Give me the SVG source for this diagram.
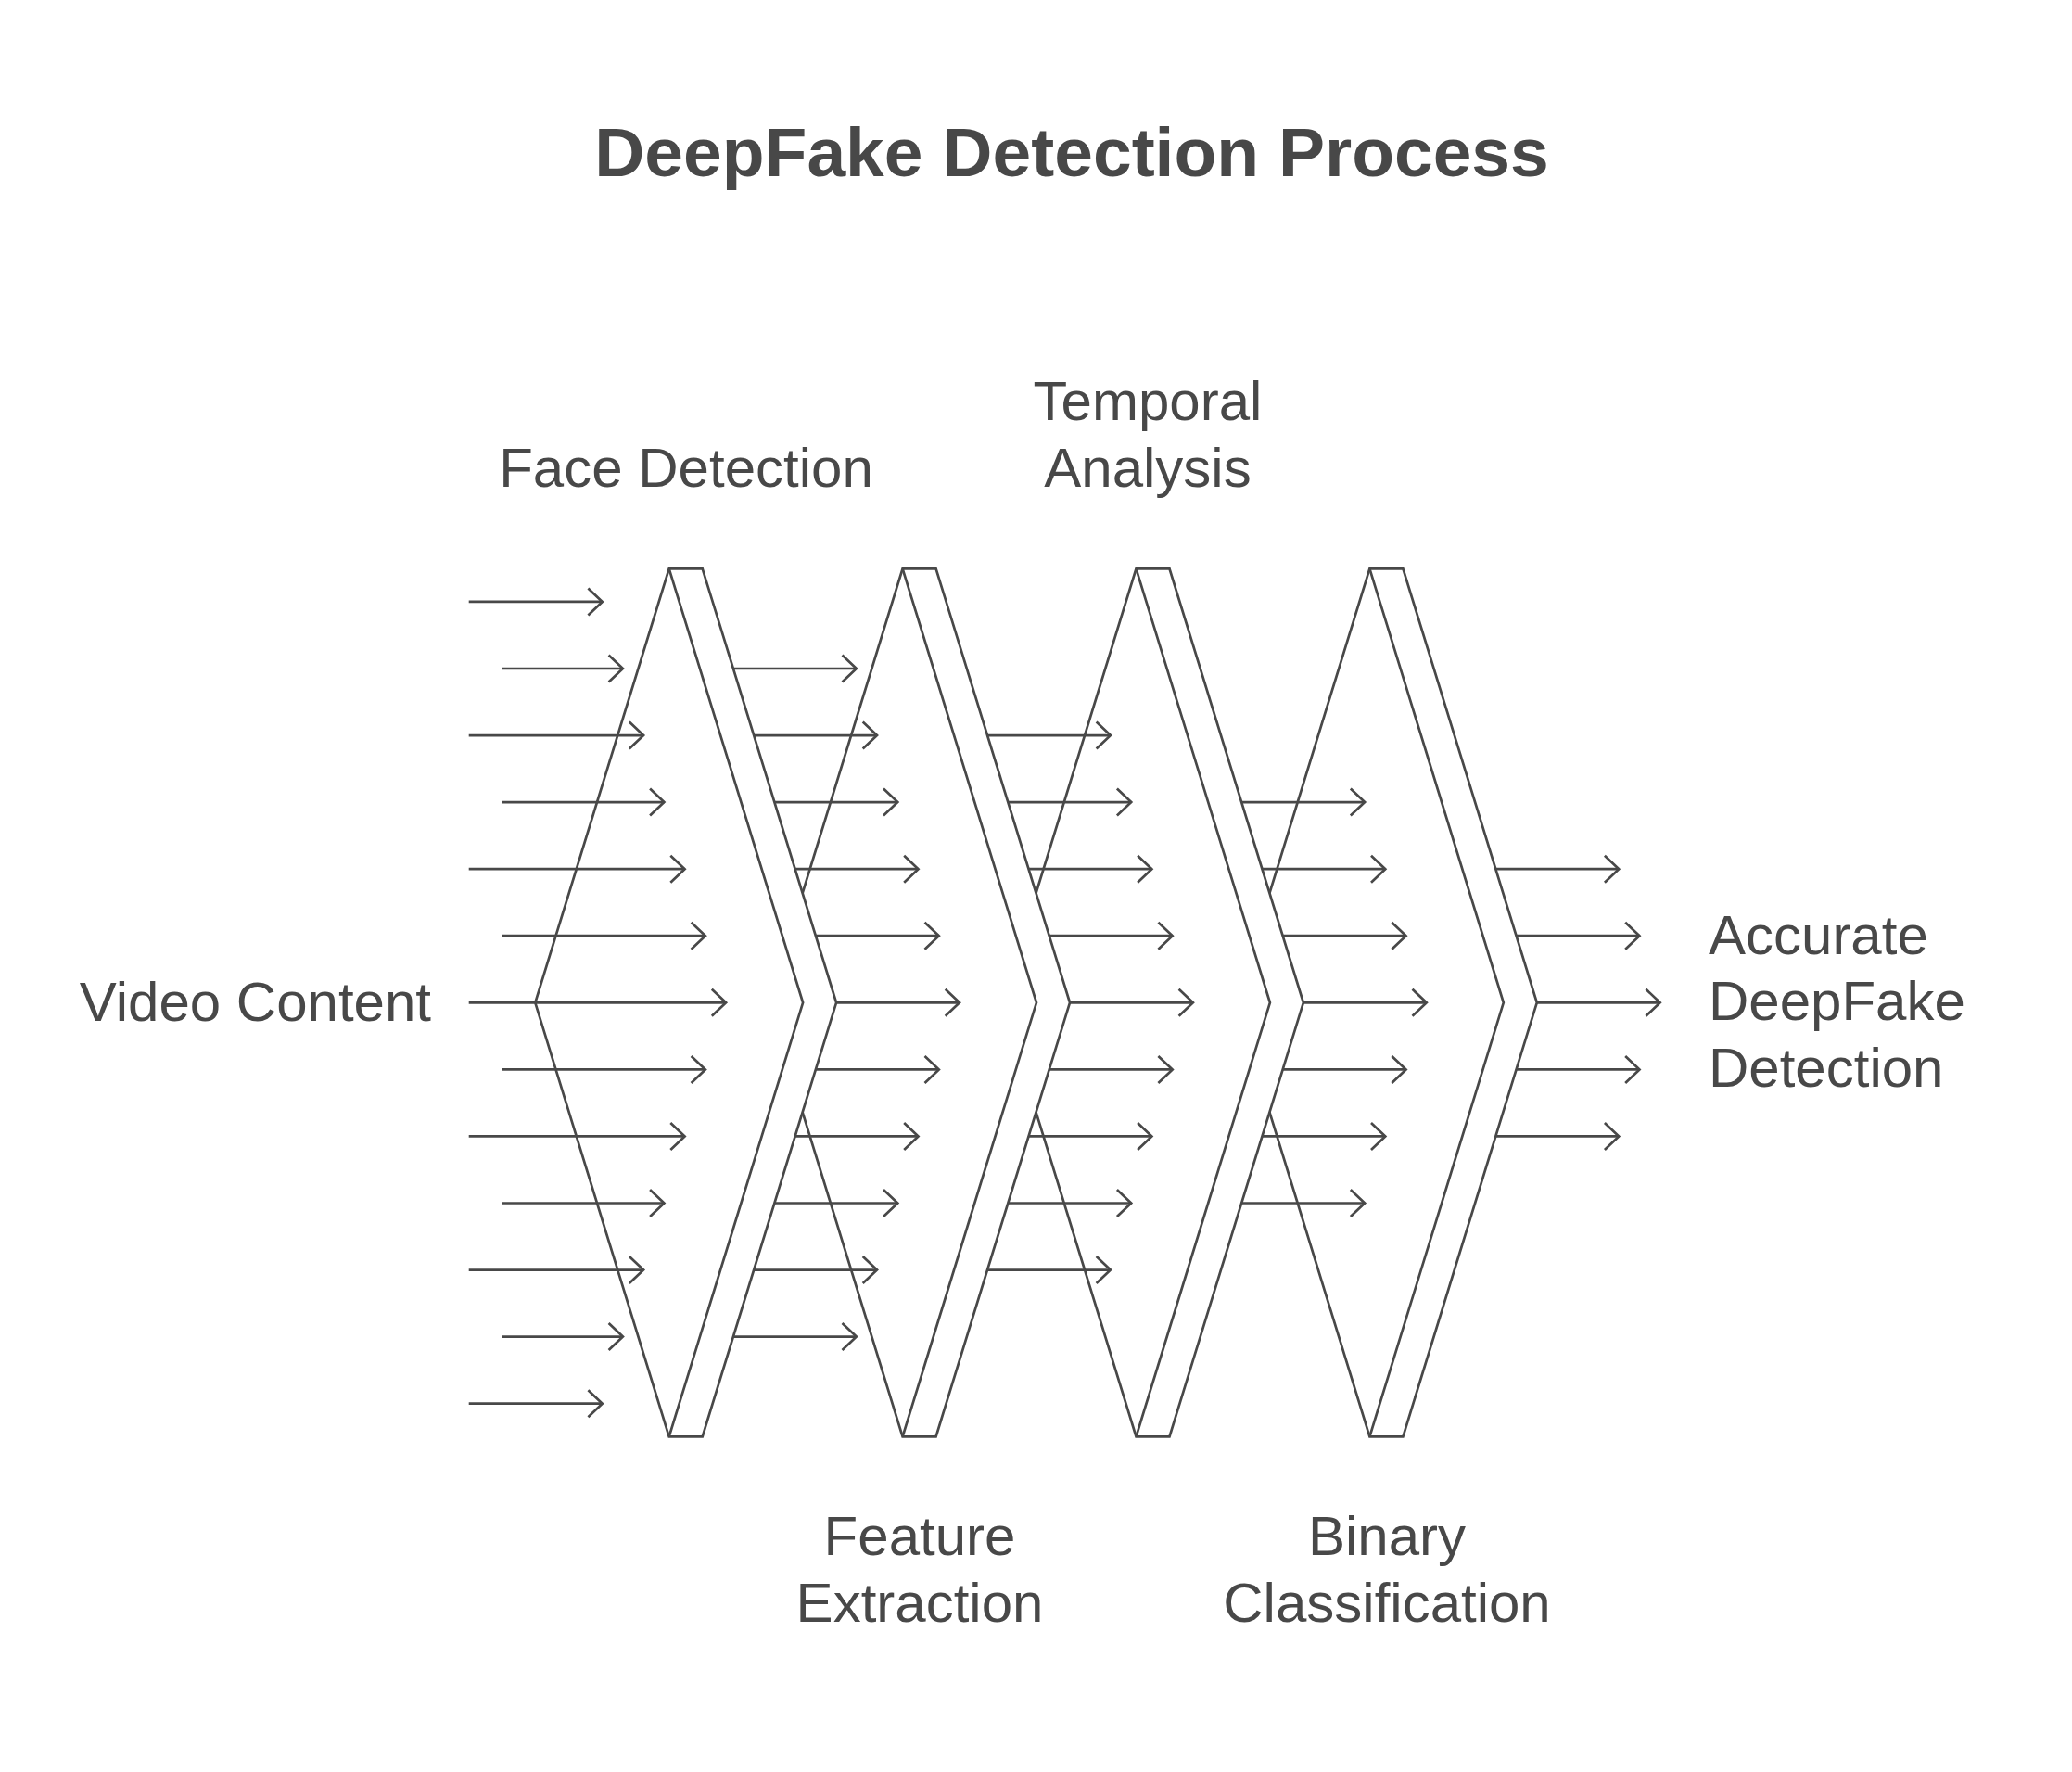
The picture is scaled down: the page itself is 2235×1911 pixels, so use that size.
<svg xmlns="http://www.w3.org/2000/svg" width="2235" height="1911" viewBox="0 0 2235 1911">
<style>
.t{font-family:"Liberation Sans",Arial,sans-serif;fill:#484848;font-size:60px}
.title{font-family:"Liberation Sans",Arial,sans-serif;fill:#484848;font-size:75px;font-weight:bold}
.ch{fill:#ffffff;stroke:#484848;stroke-width:2.7;stroke-linejoin:miter}
.in{fill:none;stroke:#484848;stroke-width:2.7}
.ar{fill:none;stroke:#484848;stroke-width:2.7;marker-end:url(#ah)}
</style>
<defs>
<marker id="ah" markerUnits="userSpaceOnUse" viewBox="0 0 22 34" markerWidth="22" markerHeight="34" refX="18" refY="17" orient="auto">
<path d="M2.7 2.5 L18 17 L2.7 31.5" fill="none" stroke="#484848" stroke-width="2.7"/>
</marker>
</defs>
<rect width="2235" height="1911" fill="#ffffff"/>
<text class="title" x="1156" y="190" text-anchor="middle">DeepFake Detection Process</text>

<g id="chevron-binary-classification">
<polygon class="ch" points="1333,1081.3 1477.4,613.3 1513.4,613.3 1657.8,1081.3 1513.4,1549.3 1477.4,1549.3"/>
<polyline class="in" points="1477.4,613.3 1621.8,1081.3 1477.4,1549.3"/>
</g>
<g id="chevron-temporal-analysis">
<polygon class="ch" points="1081.1,1081.3 1225.5,613.3 1261.5,613.3 1405.9,1081.3 1261.5,1549.3 1225.5,1549.3"/>
<polyline class="in" points="1225.5,613.3 1369.9,1081.3 1225.5,1549.3"/>
</g>
<g id="chevron-feature-extraction">
<polygon class="ch" points="829.2,1081.3 973.6,613.3 1009.6,613.3 1154,1081.3 1009.6,1549.3 973.6,1549.3"/>
<polyline class="in" points="973.6,613.3 1118,1081.3 973.6,1549.3"/>
</g>
<g id="chevron-face-detection">
<polygon class="ch" points="577.3,1081.3 721.7,613.3 757.7,613.3 902.1,1081.3 757.7,1549.3 721.7,1549.3"/>
<polyline class="in" points="721.7,613.3 866.1,1081.3 721.7,1549.3"/>
</g>

<g id="connectors">
<path class="ar" d="M505.7 648.9 H649.7"/>
<path class="ar" d="M541.7 721 H671.9"/>
<path class="ar" d="M505.7 793.1 H694.1"/>
<path class="ar" d="M541.7 865.1 H716.4"/>
<path class="ar" d="M505.7 937.2 H738.6"/>
<path class="ar" d="M541.7 1009.2 H760.9"/>
<path class="ar" d="M505.7 1081.3 H783.1"/>
<path class="ar" d="M541.7 1153.4 H760.9"/>
<path class="ar" d="M505.7 1225.4 H738.6"/>
<path class="ar" d="M541.7 1297.5 H716.4"/>
<path class="ar" d="M505.7 1369.6 H694.1"/>
<path class="ar" d="M541.7 1441.6 H671.9"/>
<path class="ar" d="M505.7 1513.7 H649.7"/>
<path class="ar" d="M790.9 721 H923.8"/>
<path class="ar" d="M813.1 793.1 H946"/>
<path class="ar" d="M835.4 865.1 H968.3"/>
<path class="ar" d="M857.6 937.2 H990.5"/>
<path class="ar" d="M879.9 1009.2 H1012.8"/>
<path class="ar" d="M902.1 1081.3 H1035"/>
<path class="ar" d="M879.9 1153.4 H1012.8"/>
<path class="ar" d="M857.6 1225.4 H990.5"/>
<path class="ar" d="M835.4 1297.5 H968.3"/>
<path class="ar" d="M813.1 1369.6 H946"/>
<path class="ar" d="M790.9 1441.6 H923.8"/>
<path class="ar" d="M1065 793.1 H1197.9"/>
<path class="ar" d="M1087.3 865.1 H1220.2"/>
<path class="ar" d="M1109.5 937.2 H1242.4"/>
<path class="ar" d="M1131.8 1009.2 H1264.7"/>
<path class="ar" d="M1154 1081.3 H1286.9"/>
<path class="ar" d="M1131.8 1153.4 H1264.7"/>
<path class="ar" d="M1109.5 1225.4 H1242.4"/>
<path class="ar" d="M1087.3 1297.5 H1220.2"/>
<path class="ar" d="M1065 1369.6 H1197.9"/>
<path class="ar" d="M1339.2 865.1 H1472.1"/>
<path class="ar" d="M1361.4 937.2 H1494.3"/>
<path class="ar" d="M1383.7 1009.2 H1516.6"/>
<path class="ar" d="M1405.9 1081.3 H1538.8"/>
<path class="ar" d="M1383.7 1153.4 H1516.6"/>
<path class="ar" d="M1361.4 1225.4 H1494.3"/>
<path class="ar" d="M1339.2 1297.5 H1472.1"/>
<path class="ar" d="M1613.3 937.2 H1746.2"/>
<path class="ar" d="M1635.6 1009.2 H1768.5"/>
<path class="ar" d="M1657.8 1081.3 H1790.7"/>
<path class="ar" d="M1635.6 1153.4 H1768.5"/>
<path class="ar" d="M1613.3 1225.4 H1746.2"/>
</g>

<g id="label-video-content"><text class="t" x="465" y="1101" text-anchor="end">Video Content</text></g>
<g id="label-face-detection"><text class="t" x="740" y="525" text-anchor="middle">Face Detection</text></g>
<g id="label-temporal-analysis"><text class="t" x="1238" y="453" text-anchor="middle">Temporal</text><text class="t" x="1238" y="525" text-anchor="middle">Analysis</text></g>
<g id="label-feature-extraction"><text class="t" x="992" y="1677" text-anchor="middle">Feature</text><text class="t" x="992" y="1749" text-anchor="middle">Extraction</text></g>
<g id="label-binary-classification"><text class="t" x="1496" y="1677" text-anchor="middle">Binary</text><text class="t" x="1496" y="1749" text-anchor="middle">Classification</text></g>
<g id="label-accurate-detection"><text class="t" x="1843" y="1029">Accurate</text><text class="t" x="1843" y="1100">DeepFake</text><text class="t" x="1843" y="1172">Detection</text></g>
</svg>
